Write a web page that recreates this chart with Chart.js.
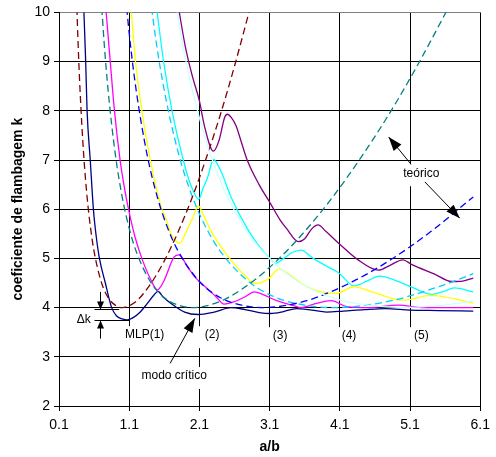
<!DOCTYPE html>
<html>
<head>
<meta charset="utf-8">
<script src="https://cdn.jsdelivr.net/npm/chart.js@4/dist/chart.umd.min.js"></script>
<style>
  html, body { margin: 0; padding: 0; background: #fff; }
  #wrap { width: 496px; height: 457px; }
</style>
</head>
<body>
<div id="wrap"><canvas id="kChart" width="496" height="457"></canvas></div>
<script>
// x ticks (a/b)
const xTicks = [0.1, 1.1, 2.1, 3.1, 4.1, 5.1, 6.1];

// numerical results (solid lines)
const navyX = [0.45, 0.48, 0.5, 0.545, 0.59, 0.63, 0.676, 0.76, 0.85, 0.92, 1.0, 1.07, 1.15, 1.25, 1.35, 1.45, 1.51, 1.58, 1.7, 1.89, 2.08, 2.31, 2.55, 2.75, 2.95, 3.11, 3.3, 3.48, 3.7, 3.91, 4.15, 4.45, 4.75, 5.1, 5.5, 6.0];
const navyK = [10.2, 9.0, 8.0, 7.0, 6.0, 5.45, 5.0, 4.5, 4.0, 3.83, 3.77, 3.75, 3.79, 3.9, 4.07, 4.25, 4.33, 4.22, 4.08, 3.91, 3.86, 3.91, 4.0, 3.96, 3.9, 3.88, 3.92, 3.98, 3.95, 3.91, 3.93, 3.96, 3.98, 3.95, 3.94, 3.93];

const magentaX = [0.76, 0.83, 0.89, 0.97, 1.03, 1.09, 1.18, 1.28, 1.41, 1.5, 1.6, 1.74, 1.81, 1.93, 2.05, 2.21, 2.35, 2.45, 2.6, 2.75, 2.88, 3.0, 3.2, 3.44, 3.55, 3.75, 3.98, 4.2, 4.5, 4.93, 5.3, 6.0];
const magentaK = [10.2, 9.0, 8.0, 7.0, 6.45, 6.0, 5.45, 5.0, 4.56, 4.36, 4.56, 5.03, 5.07, 4.83, 4.6, 4.39, 4.2, 4.07, 4.12, 4.22, 4.32, 4.27, 4.14, 4.04, 4.0, 4.08, 4.14, 4.02, 4.0, 4.05, 4.0, 4.0];

const yellowX = [1.12, 1.19, 1.28, 1.4, 1.565, 1.63, 1.69, 1.76, 1.82, 1.9, 1.99, 2.09, 2.15, 2.26, 2.4, 2.57, 2.76, 2.9, 3.06, 3.24, 3.41, 3.6, 3.84, 4.05, 4.3, 4.6, 5.0, 5.4, 6.0];
const yellowK = [10.2, 9.0, 8.0, 7.0, 6.0, 5.78, 5.51, 5.36, 5.31, 5.5, 5.78, 6.06, 5.9, 5.57, 5.25, 4.93, 4.63, 4.49, 4.56, 4.78, 4.64, 4.45, 4.32, 4.29, 4.42, 4.3, 4.15, 4.25, 4.09];

const cyanX = [1.48, 1.59, 1.71, 1.87, 1.95, 2.02, 2.09, 2.15, 2.22, 2.3, 2.41, 2.55, 2.78, 2.95, 3.11, 3.18, 3.3, 3.42, 3.55, 3.7, 3.9, 4.09, 4.3, 4.5, 4.66, 4.9, 5.15, 5.41, 5.58, 5.73, 6.0];
const cyanK = [10.2, 9.0, 8.0, 7.0, 6.6, 6.35, 6.2, 6.42, 6.66, 7.01, 6.76, 6.25, 5.61, 5.25, 4.99, 4.9, 5.0, 5.12, 5.17, 5.02, 4.85, 4.7, 4.44, 4.55, 4.64, 4.55, 4.4, 4.27, 4.33, 4.4, 4.32];

const purpleX = [1.79, 1.9, 2.0, 2.1, 2.17, 2.3, 2.38, 2.46, 2.5, 2.55, 2.62, 2.7, 2.78, 2.95, 3.11, 3.25, 3.34, 3.51, 3.6, 3.7, 3.79, 3.9, 4.09, 4.35, 4.65, 4.8, 5.0, 5.12, 5.45, 5.69, 5.85, 6.0];
const purpleK = [10.2, 9.3, 8.7, 8.2, 7.7, 7.18, 7.4, 7.87, 7.93, 7.87, 7.7, 7.35, 7.0, 6.5, 6.12, 5.78, 5.61, 5.34, 5.4, 5.6, 5.68, 5.55, 5.3, 4.98, 4.76, 4.85, 4.97, 4.88, 4.68, 4.53, 4.54, 4.6];

// theoretical curves (dashed), m = 1..4, and m = 5 (pale)
const m1X = [0.34, 0.37, 0.4, 0.45, 0.5, 0.55, 0.6, 0.7, 0.8, 0.9, 1.0, 1.2, 1.4, 1.6, 1.8, 2.0, 2.2, 2.4, 2.6, 2.85];
const m1K = [10.76, 9.44, 8.41, 7.14, 6.25, 5.61, 5.14, 4.53, 4.2, 4.05, 4.0, 4.13, 4.47, 4.95, 5.55, 6.25, 7.05, 7.93, 8.91, 10.24];

const m2X = [0.68, 0.74, 0.8, 0.9, 1.0, 1.1, 1.2, 1.4, 1.6, 1.8, 2.0, 2.4, 2.8, 3.2, 3.6, 4.0, 4.4, 4.8, 5.2, 5.7];
const m2K = [10.76, 9.44, 8.41, 7.14, 6.25, 5.61, 5.14, 4.53, 4.2, 4.05, 4.0, 4.13, 4.47, 4.95, 5.55, 6.25, 7.05, 7.93, 8.91, 10.24];

const m3X = [1.02, 1.11, 1.2, 1.35, 1.5, 1.65, 1.8, 2.1, 2.4, 2.7, 3.0, 3.6, 4.2, 4.8, 5.4, 6.0];
const m3K = [10.76, 9.44, 8.41, 7.14, 6.25, 5.61, 5.14, 4.53, 4.2, 4.05, 4.0, 4.13, 4.47, 4.95, 5.55, 6.25];

const m4X = [1.36, 1.48, 1.6, 1.8, 2.0, 2.2, 2.4, 2.8, 3.2, 3.6, 4.0, 4.8, 5.6, 6.0];
const m4K = [10.76, 9.44, 8.41, 7.14, 6.25, 5.61, 5.14, 4.53, 4.2, 4.05, 4.0, 4.13, 4.47, 4.69];

const m5X = [1.7, 1.85, 2.0, 2.25, 2.5, 2.75, 3.0, 3.5, 4.0, 4.5, 5.0, 5.5, 6.0];
const m5K = [10.76, 9.44, 8.41, 7.14, 6.25, 5.61, 5.14, 4.53, 4.2, 4.05, 4.0, 4.04, 4.13];

// text notes (data units)
const noteText = ['MLP(1)', '(2)', '(3)', '(4)', '(5)', 'modo crítico', 'teórico'];
const noteX = [1.32, 2.28, 3.25, 4.23, 5.26, 1.74, 5.26];
const noteY = [3.44, 3.44, 3.42, 3.42, 3.42, 2.61, 6.73];

// arrows: from (x0,y0) to tip (x1,y1)
const arrowX0 = [1.683, 5.114, 5.311];
const arrowY0 = [2.867, 6.914, 6.554];
const arrowX1 = [2.034, 4.795, 5.808];
const arrowY1 = [3.781, 7.468, 5.817];

const pts = (xs, ks) => xs.map((x, i) => ({ x: x, y: ks[i] }));

function solid(xs, ks, color) {
    return {
        data: pts(xs, ks), borderColor: color, borderWidth: 1.3,
        pointRadius: 0, cubicInterpolationMode: "monotone", clip: 0, fill: false
    };
}
function dashed(xs, ks, color) {
    const d = solid(xs, ks, color);
    d.borderDash = [7, 4];
    return d;
}

function drawArrow(ctx, x0, y0, x1, y1, len, half) {
    ctx.beginPath();
    ctx.moveTo(x0, y0);
    ctx.lineTo(x1, y1);
    ctx.stroke();
    const a = Math.atan2(y1 - y0, x1 - x0);
    const bx = x1 - len * Math.cos(a), by = y1 - len * Math.sin(a);
    ctx.beginPath();
    ctx.moveTo(x1, y1);
    ctx.lineTo(bx + half * Math.sin(a), by - half * Math.cos(a));
    ctx.lineTo(bx - half * Math.sin(a), by + half * Math.cos(a));
    ctx.closePath();
    ctx.fill();
}

const notesPlugin = {
    id: "notes",
    beforeDatasetsDraw(chart) {
        // white boxes behind the labels hide the grid lines
        const ctx = chart.ctx, sx = chart.scales.x, sy = chart.scales.y;
        ctx.save();
        ctx.font = '12px "Liberation Sans", Arial, sans-serif';
        ctx.fillStyle = "#fff";
        noteText.forEach((t, i) => {
            const w = ctx.measureText(t).width;
            const cx = sx.getPixelForValue(noteX[i]), cy = sy.getPixelForValue(noteY[i]);
            ctx.fillRect(cx - w / 2 - 7, cy - 9, w + 14, 22);
        });
        ctx.restore();
    },
    afterDatasetsDraw(chart) {
        const ctx = chart.ctx, sx = chart.scales.x, sy = chart.scales.y;
        ctx.save();
        ctx.fillStyle = "#000";
        ctx.strokeStyle = "#000";
        ctx.lineWidth = 1;
        ctx.font = '12px "Liberation Sans", Arial, sans-serif';
        ctx.textAlign = "center";
        ctx.textBaseline = "middle";
        noteText.forEach((t, i) => {
            ctx.fillText(t, sx.getPixelForValue(noteX[i]), sy.getPixelForValue(noteY[i]));
        });
        arrowX0.forEach((v, i) => {
            drawArrow(ctx, sx.getPixelForValue(v), sy.getPixelForValue(arrowY0[i]),
                sx.getPixelForValue(arrowX1[i]), sy.getPixelForValue(arrowY1[i]), 14, 5);
        });

        // delta k marker
        const xa = sx.getPixelForValue(0.606);
        const yLow = Math.round(sy.getPixelForValue(3.746)) + 0.5;
        const yTop = Math.round(sy.getPixelForValue(3.97)) + 0.5;
        ctx.beginPath();
        ctx.moveTo(xa, yLow); ctx.lineTo(sx.getPixelForValue(1.097), yLow);
        ctx.moveTo(xa, yTop); ctx.lineTo(sx.getPixelForValue(0.957), yTop);
        ctx.stroke();
        const xm = Math.round(sx.getPixelForValue(0.686)) + 0.5;
        drawArrow(ctx, xm, sy.getPixelForValue(4.32), xm, yTop, 8, 3.5);
        drawArrow(ctx, xm, sy.getPixelForValue(3.37), xm, yLow, 8, 3.5);
        ctx.fillText("\u0394k", sx.getPixelForValue(0.451), sy.getPixelForValue(3.746));
        ctx.restore();
    }
};

const tickFont = { family: '"Liberation Sans", Arial, sans-serif', size: 14 };

new Chart(document.getElementById("kChart"), {
    type: "line",
    data: {
        datasets: [
            solid(m5X, m5K, "#CCFFFF"),
            dashed(m1X, m1K, "#800000"),
            dashed(m2X, m2K, "#008080"),
            dashed(m3X, m3K, "#0000FF"),
            dashed(m4X, m4K, "#00CCFF"),
            solid(navyX, navyK, "#000080"),
            solid(magentaX, magentaK, "#FF00FF"),
            solid(yellowX, yellowK, "#FFFF00"),
            solid(cyanX, cyanK, "#00FFFF"),
            solid(purpleX, purpleK, "#800080")
        ]
    },
    options: {
        responsive: false,
        animation: false,
        layout: { padding: { top: 12, right: 10, left: 0, bottom: 0 } },
        plugins: { legend: { display: false }, tooltip: { enabled: false } },
        scales: {
            x: {
                type: "linear", min: 0.1, max: 6.1,
                afterBuildTicks: s => { s.ticks = xTicks.map(v => ({ value: v })); },
                afterFit: s => { s.height = 51; },
                ticks: { color: "#000", font: tickFont, padding: 6, maxRotation: 0,
                    callback: v => v.toFixed(1) },
                grid: { color: "#000", tickLength: 5, tickColor: "#000" },
                border: { color: "#000" },
                title: { display: true, text: "a/b", color: "#000",
                    font: { family: tickFont.family, size: 14, weight: "bold" },
                    padding: { top: 0, bottom: 1 } }
            },
            y: {
                min: 2, max: 10,
                afterFit: s => { s.width = 59; },
                ticks: { stepSize: 1, color: "#000", font: tickFont, padding: 4 },
                grid: { color: c => c.tick && c.tick.value === 10 ? "#808080" : "#000",
                    tickLength: 5, tickColor: "#000" },
                border: { color: "#000" },
                title: { display: true, text: "coeficiente de flambagem k", color: "#000",
                    font: { family: tickFont.family, size: 14, weight: "bold" },
                    padding: { top: 10, bottom: 0 } }
            }
        }
    },
    plugins: [notesPlugin]
});
</script>
</body>
</html>
